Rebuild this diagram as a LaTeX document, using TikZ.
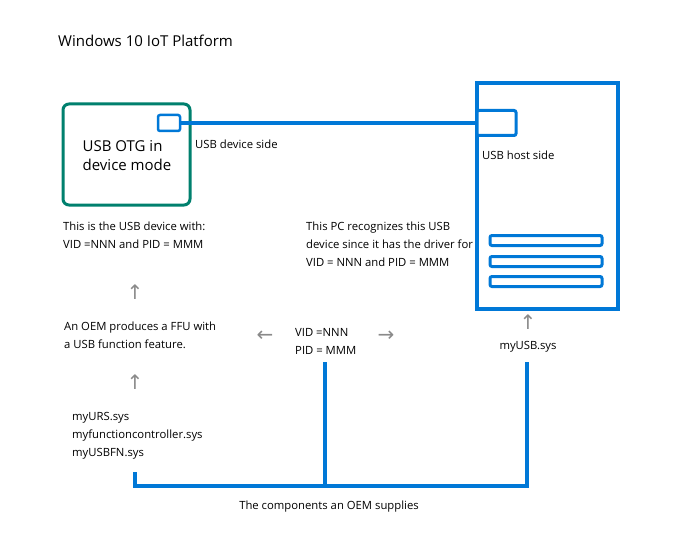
\documentclass[tikz,border=0pt]{standalone}
\usepackage{fontspec}
\setmainfont{Open Sans}
\newfontfamily\arrowfont{DejaVu Sans}
\definecolor{msblue}{HTML}{0078D7}
\definecolor{msgreen}{HTML}{00806E}
\definecolor{arrowgray}{HTML}{8A8A8A}
\begin{document}
\begin{tikzpicture}[x=1pt,y=-1pt,
  txt/.style={inner sep=0pt,anchor=base west,font=\fontsize{11.3}{18}\selectfont},
  blk/.style={inner sep=0pt,anchor=north west,align=left,font=\fontsize{11.3}{18}\selectfont},
  garr/.style={inner sep=0pt,text=arrowgray,font=\arrowfont\fontsize{20}{20}\selectfont},
  bluebox/.style={draw=msblue,fill=white,inner sep=0pt,rounded corners=2pt},
  cable/.style={draw=msblue,line width=4pt}]
\useasboundingbox (0,0) rectangle (684,540);
\fill[white] (0,0) rectangle (684,540);

\node[txt,font=\fontsize{15}{18}\selectfont] (title) at (58,47) {Windows 10 IoT Platform};

% device
\node[draw=msgreen,line width=3pt,rounded corners=6pt,minimum width=127pt,minimum height=101pt,inner sep=0pt] (otg) at (126.5,154.5) {};
\node[align=left,inner sep=0pt,font=\fontsize{15}{19}\selectfont] (otgtxt) at (127,156) {USB OTG in\\device mode};
\node[bluebox,line width=2.5pt,minimum width=22pt,minimum height=16pt] (devport) at (169,123) {};

% host
\node[draw=msblue,line width=3.5pt,minimum width=141pt,minimum height=226pt,inner sep=0pt] (host) at (547.5,196) {};
\node[bluebox,line width=3pt,minimum width=39pt,minimum height=25pt,rounded corners=2pt] (hostport) at (496.5,123) {};
\node[bluebox,line width=3pt,minimum width=112pt,minimum height=10pt] (slot1) at (546,240.5) {};
\node[bluebox,line width=3pt,minimum width=112pt,minimum height=10pt] (slot2) at (546,261.5) {};
\node[bluebox,line width=3pt,minimum width=112pt,minimum height=10pt] (slot3) at (546,281.5) {};

\draw[cable] (devport.east) -- (hostport.west);

\node[txt] (devside) at (195,149) {USB device side};
\node[txt] (hostside) at (482,159) {USB host side};

\node[blk] (devinfo) at (63,222) {This is the USB device with:\\VID =NNN and PID = MMM};
\node[blk] (pcinfo) at (306,222) {This PC recognizes this USB\\device since it has the driver for\\VID = NNN and PID = MMM};

\node[garr] (a1) at (135,292) {↑};
\node[blk] (oem) at (64,322) {An OEM produces a FFU with\\a USB function feature.};
\node[garr] (a2) at (135,382) {↑};
\node[blk] (files) at (72,412) {myURS.sys\\myfunctioncontroller.sys\\myUSBFN.sys};

\node[garr] (a3) at (265,336) {←};
\node[blk] (vidpid) at (295,328) {VID =NNN\\PID = MMM};
\node[garr] (a4) at (386,336) {→};

\node[garr] (a5) at (528,322) {↑};
\node[txt,anchor=base] (myusb) at (528,349) {myUSB.sys};

\coordinate (bl) at (135,472);
\coordinate (bm) at (325,362);
\coordinate (br) at (527,362);
\draw[cable] (bl) -- (bl |- 0,486) -- (br |- 0,486) -- (br);
\draw[cable] (bm) -- (bm |- 0,486);

\node[txt,anchor=base] (comp) at (329,509) {The components an OEM supplies};
\end{tikzpicture}
\end{document}
